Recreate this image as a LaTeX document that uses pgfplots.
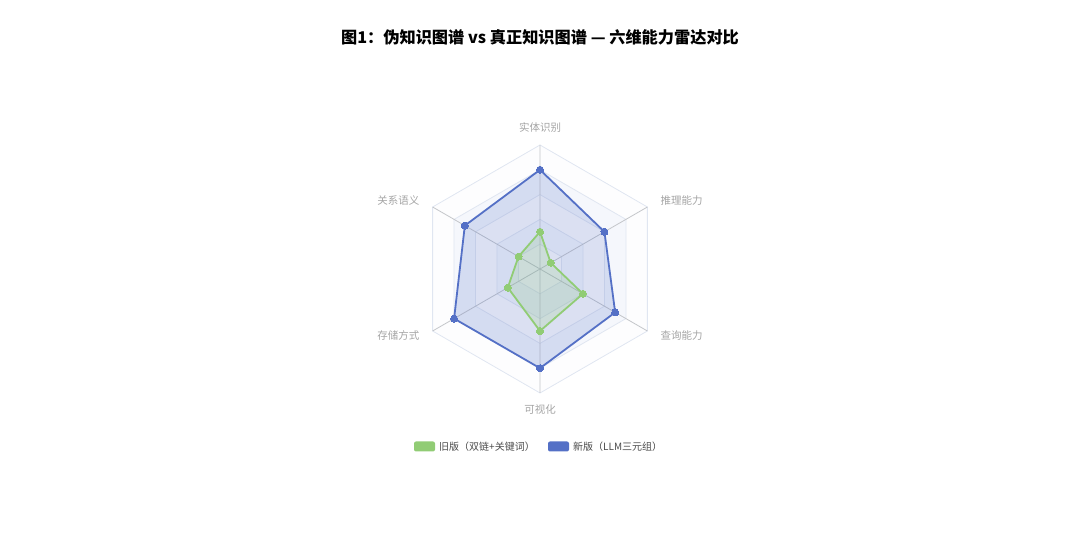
\documentclass[border=0pt]{standalone}
\usepackage{fontspec}
\usepackage{pgfplots}
\pgfplotsset{compat=1.18}
\newfontfamily\cjk{Noto Sans CJK SC}
\definecolor{newblue}{HTML}{5470C6}
\definecolor{oldgreen}{HTML}{91CC75}
\definecolor{splitc}{HTML}{E0E6F1}
\definecolor{spokec}{HTML}{C4C6CA}
\definecolor{bandA}{HTML}{FDFDFE}
\definecolor{bandB}{HTML}{F5F7FC}
\definecolor{namec}{HTML}{A4A4A4}
\definecolor{legc}{HTML}{4A4A4A}

\begin{document}
\begin{tikzpicture}[x=1pt,y=1pt]
\path (0,0) rectangle (1080,534);
\node[font=\cjk\bfseries\fontsize{16.2}{18}\selectfont, color=black] at (540,497)
  {图1：伪知识图谱 vs 真正知识图谱 — 六维能力雷达对比};

\begin{axis}[
  at={(540pt,265pt)}, anchor=center,
  width=248pt, height=248pt, scale only axis,
  xmin=-10, xmax=10, ymin=-10, ymax=10,
  hide axis, clip=false,
  every axis plot/.append style={data cs=polar},
]
% split areas and split lines (hexagonal rings)
\addplot[draw=splitc, fill=bandA, line width=0.8pt] coordinates {(90,10) (30,10) (-30,10) (-90,10) (-150,10) (150,10) (90,10)};
\addplot[draw=splitc, fill=bandB, line width=0.8pt] coordinates {(90,8) (30,8) (-30,8) (-90,8) (-150,8) (150,8) (90,8)};
\addplot[draw=splitc, fill=bandA, line width=0.8pt] coordinates {(90,6) (30,6) (-30,6) (-90,6) (-150,6) (150,6) (90,6)};
\addplot[draw=splitc, fill=bandB, line width=0.8pt] coordinates {(90,4) (30,4) (-30,4) (-90,4) (-150,4) (150,4) (90,4)};
\addplot[draw=splitc, fill=bandA, line width=0.8pt] coordinates {(90,2) (30,2) (-30,2) (-90,2) (-150,2) (150,2) (90,2)};
% spokes
\addplot[spokec, line width=0.8pt] coordinates {(90,10) (90,0) (30,10)};
\addplot[spokec, line width=0.8pt] coordinates {(-30,10) (-30,0) (-90,10)};
\addplot[spokec, line width=0.8pt] coordinates {(-150,10) (-150,0) (150,10)};

% 新版 (LLM三元组)
\addplot[newblue, line width=1.8pt, fill=newblue, fill opacity=0.2,
  mark=*, mark size=3.5pt, mark options={fill=newblue, fill opacity=1, line width=0pt}]
  coordinates {(90,8) (30,6) (-30,7) (-90,8) (-150,8) (150,7) (90,8)};
% 旧版 (双链+关键词)
\addplot[oldgreen, line width=1.8pt, fill=oldgreen, fill opacity=0.2,
  mark=*, mark size=3.5pt, mark options={fill=oldgreen, fill opacity=1, line width=0pt}]
  coordinates {(90,3) (30,1) (-30,4) (-90,5) (-150,3) (150,2) (90,3)};

% indicator names
\node[font=\cjk\fontsize{10.5}{12}\selectfont, color=namec] at (axis cs:0,11.45) {实体识别};
\node[font=\cjk\fontsize{10.5}{12}\selectfont, color=namec, anchor=west] at (axis cs:9.45,5.55) {推理能力};
\node[font=\cjk\fontsize{10.5}{12}\selectfont, color=namec, anchor=west] at (axis cs:9.45,-5.4) {查询能力};
\node[font=\cjk\fontsize{10.5}{12}\selectfont, color=namec] at (axis cs:0,-11.3) {可视化};
\node[font=\cjk\fontsize{10.5}{12}\selectfont, color=namec, anchor=east] at (axis cs:-9.45,-5.4) {存储方式};
\node[font=\cjk\fontsize{10.5}{12}\selectfont, color=namec, anchor=east] at (axis cs:-9.45,5.55) {关系语义};
\end{axis}

% legend
\fill[oldgreen, rounded corners=2pt] (414,82.5) rectangle (435,92.5);
\node[font=\cjk\fontsize{10}{12}\selectfont, color=legc, anchor=west, inner sep=0pt] at (439,87.5) {旧版（双链+关键词）};
\fill[newblue, rounded corners=2pt] (548,82.5) rectangle (569,92.5);
\node[font=\cjk\fontsize{10}{12}\selectfont, color=legc, anchor=west, inner sep=0pt] at (573,87.5) {新版（LLM三元组）};
\end{tikzpicture}
\end{document}
